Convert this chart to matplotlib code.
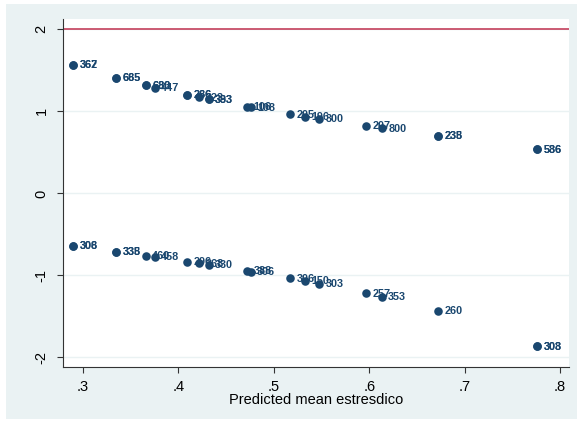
import numpy as np
import matplotlib
matplotlib.use('Agg')
from matplotlib import pyplot as plt
from matplotlib.patches import Rectangle

plt.rcParams['font.family'] = ['Liberation Sans', 'DejaVu Sans']

# predicted mean (x) and residuals (y), with observation labels
pred_hi = [0.290, 0.290, 0.335, 0.335, 0.366, 0.366, 0.3755, 0.409, 0.409,
           0.4216, 0.432, 0.432, 0.472, 0.476, 0.517, 0.533, 0.5475,
           0.5966, 0.6134, 0.672, 0.672, 0.776, 0.776]
resid_hi = [1.565, 1.565, 1.409, 1.409, 1.316, 1.316, 1.290, 1.202, 1.202,
            1.171, 1.147, 1.147, 1.058, 1.049, 0.967, 0.936, 0.909,
            0.822, 0.794, 0.699, 0.699, 0.537, 0.537]
labels_hi = ['367', '362', '685', '665', '680', '683', '447', '266', '286',
             '223', '333', '393', '106', '108', '205', '196', '300',
             '207', '800', '235', '238', '536', '586']

pred_lo = [0.290, 0.290, 0.335, 0.335, 0.366, 0.3755, 0.409, 0.4216,
           0.432, 0.472, 0.476, 0.517, 0.533, 0.5475, 0.5966, 0.6134,
           0.672, 0.776, 0.776]
resid_lo = [-0.639, -0.639, -0.710, -0.710, -0.760, -0.775, -0.832, -0.854,
            -0.872, -0.945, -0.953, -1.034, -1.068, -1.100, -1.217, -1.260,
            -1.431, -1.862, -1.862]
labels_lo = ['306', '308', '338', '335', '460', '458', '296', '268',
             '330', '388', '306', '306', '150', '303', '257', '353',
             '260', '308', '303']

navy = '#1a476f'

fig = plt.figure(figsize=(5.77, 4.23), dpi=100)
fig.patch.set_facecolor('white')
bg = Rectangle((6 / 577, 4 / 423), 571 / 577, 415 / 423,
               transform=fig.transFigure, facecolor='#eaf2f3',
               edgecolor='none', zorder=-10)
fig.add_artist(bg)
ax = fig.add_axes([63 / 577, 1 - 367 / 423, 506 / 577, 347.5 / 423])
ax.set_zorder(1)
ax.set_facecolor('white')

ax.set_xlim(0.279, 0.8094)
ax.set_ylim(-2.116, 2.12)

for y in [-2, -1, 0, 1, 2]:
    ax.axhline(y, color='#eaf2f3', lw=1.0, zorder=1)
ax.axhline(2, color='#c4405c', lw=1.2, zorder=2)

ax.scatter(pred_hi, resid_hi, s=38, color=navy, zorder=3, linewidths=0)
ax.scatter(pred_lo, resid_lo, s=38, color=navy, zorder=3, linewidths=0)
for x, y, t in zip(pred_hi + pred_lo, resid_hi + resid_lo, labels_hi + labels_lo):
    ax.annotate(t, (x, y), xytext=(4.5, -0.3), textcoords='offset points',
                va='center', ha='left', fontsize=7.8, fontweight='bold',
                color=navy, zorder=4)

ax.set_xticks([0.3, 0.4, 0.5, 0.6, 0.7, 0.8])
ax.set_xticklabels(['.3', '.4', '.5', '.6', '.7', '.8'])
ax.set_yticks([-2, -1, 0, 1, 2])
ax.set_yticklabels(['-2', '-1', '0', '1', '2'], rotation=90, va='center')
ax.tick_params(axis='both', length=4.3, width=0.8, labelsize=10.5, color='#333333')
ax.tick_params(axis='x', pad=5)
ax.tick_params(axis='y', pad=6)
ax.set_xlabel('Predicted mean estresdico', fontsize=10.5, labelpad=-0.5)

for s in ['top', 'right']:
    ax.spines[s].set_visible(False)
for s in ['left', 'bottom']:
    ax.spines[s].set_linewidth(0.8)
    ax.spines[s].set_color('#333333')

fig.savefig('out.png', dpi=100)
